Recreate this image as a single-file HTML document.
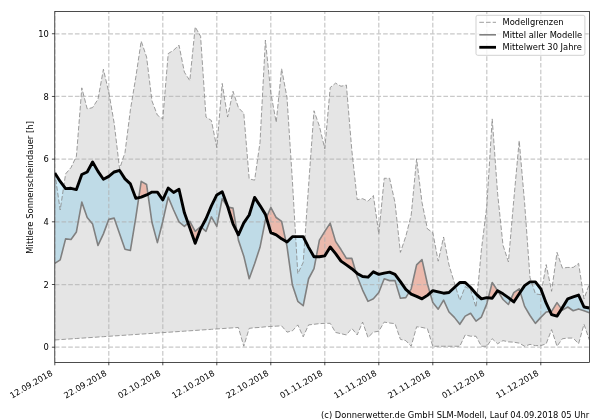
<!DOCTYPE html>
<html lang="de"><head><meta charset="utf-8"><title>Mittlere Sonnenscheindauer</title>
<style>html,body{margin:0;padding:0;background:#fff;}body{width:600px;height:420px;overflow:hidden;}svg{display:block;}text{font-family:"DejaVu Sans","Liberation Sans",sans-serif;fill:#000;}</style></head><body>
<svg width="600" height="420" viewBox="0 0 600 420">
<rect width="600" height="420" fill="#fff"/>
<defs><clipPath id="c"><rect x="54.8" y="11.4" width="534.6" height="351.0"/></clipPath></defs>
<g clip-path="url(#c)">
<polygon points="54.80,172.93 60.20,209.98 65.60,173.87 71.00,167.59 76.40,156.29 81.80,87.84 87.20,108.87 92.60,107.62 98.00,99.14 103.40,69.31 108.80,92.23 114.20,123.32 119.60,168.85 125.00,152.52 130.40,109.82 135.80,77.16 141.20,41.05 146.60,57.06 152.00,101.02 157.40,115.15 162.80,118.92 168.20,53.61 173.60,50.16 179.00,45.13 184.40,72.14 189.80,80.61 195.20,26.92 200.60,36.34 206.00,117.04 211.40,120.49 216.80,147.50 222.20,83.44 227.60,117.04 233.00,91.29 238.40,107.62 243.80,113.27 249.20,178.90 254.60,180.15 260.00,142.47 265.40,40.11 270.80,92.55 276.20,122.38 281.60,68.68 287.00,97.57 292.40,180.78 297.80,273.72 303.20,262.42 308.60,185.49 314.00,110.76 319.40,126.14 324.80,148.75 330.20,87.52 335.60,83.13 341.00,86.27 346.40,85.01 351.80,150.01 357.20,199.62 362.60,198.68 368.00,201.19 373.40,195.54 378.80,233.85 384.20,178.27 389.60,178.27 395.00,202.45 400.40,252.37 405.80,236.36 411.20,215.01 416.60,158.80 422.00,202.45 427.40,228.82 432.80,232.59 438.20,261.16 443.60,236.99 449.00,264.93 454.40,282.83 459.80,300.41 465.20,286.60 470.60,289.74 476.00,307.32 481.40,249.86 486.80,205.90 492.20,118.92 497.60,193.34 503.00,245.15 508.40,261.79 513.80,199.62 519.20,140.59 524.60,202.76 530.00,277.49 535.40,293.82 540.80,294.76 546.20,264.62 551.60,291.31 557.00,252.37 562.40,268.07 567.80,267.44 573.20,267.44 578.60,263.36 584.00,298.84 589.40,283.77 589.40,339.98 584.00,324.28 578.60,343.75 573.20,338.09 567.80,338.09 562.40,338.72 557.00,346.26 551.60,329.62 546.20,343.75 540.80,345.63 535.40,345.63 530.00,344.37 524.60,346.26 519.20,343.12 513.80,342.18 508.40,341.86 503.00,340.61 497.60,343.75 492.20,338.72 486.80,346.26 481.40,346.26 476.00,336.21 470.60,336.21 465.20,334.95 459.80,346.26 454.40,346.26 449.00,346.26 443.60,346.26 438.20,346.26 432.80,346.26 427.40,328.67 422.00,327.42 416.60,326.79 411.20,346.26 405.80,340.61 400.40,339.35 395.00,323.65 389.60,323.02 384.20,322.08 378.80,331.19 373.40,332.13 368.00,337.47 362.60,322.08 357.20,334.95 351.80,328.36 346.40,334.95 341.00,333.70 335.60,332.44 330.20,323.34 324.80,323.34 319.40,323.65 314.00,324.28 308.60,324.91 303.20,336.84 297.80,324.91 292.40,330.87 287.00,332.13 281.60,325.85 276.20,326.16 270.80,326.48 265.40,326.79 260.00,327.42 254.60,327.73 249.20,328.36 243.80,346.26 238.40,327.49 233.00,327.85 227.60,328.22 222.20,328.59 216.80,328.96 211.40,329.32 206.00,329.69 200.60,330.06 195.20,330.43 189.80,330.79 184.40,331.16 179.00,331.53 173.60,331.90 168.20,332.26 162.80,332.63 157.40,333.00 152.00,333.37 146.60,333.73 141.20,334.10 135.80,334.47 130.40,334.83 125.00,335.20 119.60,335.57 114.20,335.94 108.80,336.30 103.40,336.67 98.00,337.04 92.60,337.41 87.20,337.77 81.80,338.14 76.40,338.51 71.00,338.88 65.60,339.24 60.20,339.61 54.80,339.98" fill="#e5e5e5"/>
<polygon points="54.80,263.36 60.20,259.91 65.60,238.87 71.00,239.50 76.40,231.96 81.80,202.13 87.20,217.52 92.60,224.11 98.00,245.46 103.40,233.85 108.80,219.40 114.20,218.15 119.60,233.85 125.00,249.23 130.40,250.49 135.80,217.52 138.77,197.67 138.77,197.67 135.80,198.36 130.40,183.92 125.00,178.90 119.60,170.42 114.20,171.99 108.80,176.38 103.40,179.21 98.00,171.36 92.60,161.94 87.20,171.99 81.80,174.50 76.40,189.57 71.00,188.32 65.60,188.63 60.20,181.41 54.80,172.93" fill="#87ceeb" fill-opacity="0.4"/>
<polygon points="147.97,194.19 152.00,222.54 157.40,242.64 162.80,221.29 168.20,197.11 173.60,209.98 179.00,221.91 184.40,226.31 188.03,222.93 188.03,222.93 184.40,212.81 179.00,189.26 173.60,192.40 168.20,188.00 162.80,199.93 157.40,192.08 152.00,192.08 147.97,194.19" fill="#87ceeb" fill-opacity="0.4"/>
<polygon points="201.40,227.33 206.00,231.33 211.40,216.89 216.80,226.31 222.20,198.68 227.60,207.16 227.91,207.21 227.91,207.21 227.60,206.21 222.20,191.77 216.80,194.91 211.40,205.90 206.00,218.77 201.40,227.33" fill="#87ceeb" fill-opacity="0.4"/>
<polygon points="237.03,232.00 238.40,240.13 243.80,256.14 249.20,278.75 254.60,263.68 260.00,247.35 265.40,220.03 266.39,217.72 266.39,217.72 265.40,214.38 260.00,205.59 254.60,197.42 249.20,215.01 243.80,222.86 238.40,234.79 237.03,232.00" fill="#87ceeb" fill-opacity="0.4"/>
<polygon points="285.92,241.38 287.00,246.41 292.40,285.03 297.80,301.36 303.20,305.75 308.60,278.75 314.00,268.70 316.25,256.77 316.25,256.77 314.00,256.77 308.60,247.35 303.20,236.67 297.80,236.67 292.40,236.67 287.00,242.01 285.92,241.38" fill="#87ceeb" fill-opacity="0.4"/>
<polygon points="355.94,272.31 357.20,276.55 362.60,290.05 368.00,301.36 373.40,298.84 378.80,292.56 384.20,278.75 389.60,280.63 395.00,280.63 400.40,298.22 405.80,297.59 409.07,292.27 409.07,292.27 405.80,289.42 400.40,281.57 395.00,274.35 389.60,272.15 384.20,273.10 378.80,274.35 373.40,271.84 368.00,277.18 362.60,276.55 357.20,273.41 355.94,272.31" fill="#87ceeb" fill-opacity="0.4"/>
<polygon points="430.06,293.07 432.80,302.61 438.20,309.21 443.60,300.10 449.00,312.03 454.40,317.37 459.80,324.28 465.20,316.11 470.60,313.29 476.00,321.14 481.40,317.06 486.80,303.87 488.34,297.77 488.34,297.77 486.80,297.59 481.40,298.84 476.00,293.82 470.60,287.54 465.20,282.52 459.80,282.52 454.40,287.54 449.00,292.56 443.60,293.19 438.20,291.94 432.80,290.68 430.06,293.07" fill="#87ceeb" fill-opacity="0.4"/>
<polygon points="503.00,299.47 508.40,304.50 510.68,299.45 510.68,299.45 508.40,297.59 503.00,293.82" fill="#87ceeb" fill-opacity="0.4"/>
<polygon points="520.25,292.23 524.60,306.38 530.00,315.49 535.40,323.34 540.80,317.37 546.20,312.03 550.18,311.57 550.18,311.57 546.20,303.24 540.80,288.80 535.40,281.89 530.00,281.89 524.60,285.66 520.25,292.23" fill="#87ceeb" fill-opacity="0.4"/>
<polygon points="561.55,308.97 562.40,310.15 567.80,307.01 573.20,310.78 578.60,308.89 584.00,310.78 589.40,312.66 589.40,307.95 584.00,307.01 578.60,295.08 573.20,296.96 567.80,298.84 562.40,307.64 561.55,308.97" fill="#87ceeb" fill-opacity="0.4"/>
<polygon points="138.77,197.67 141.20,181.41 146.60,184.55 147.97,194.19 147.97,194.19 146.60,194.91 141.20,197.11 138.77,197.67" fill="#f67757" fill-opacity="0.4"/>
<polygon points="188.03,222.93 189.80,221.29 195.20,231.33 200.60,226.62 201.40,227.33 201.40,227.33 200.60,228.82 195.20,243.27 189.80,227.88 188.03,222.93" fill="#f67757" fill-opacity="0.4"/>
<polygon points="227.91,207.21 233.00,208.10 237.03,232.00 237.03,232.00 233.00,223.80 227.91,207.21" fill="#f67757" fill-opacity="0.4"/>
<polygon points="266.39,217.72 270.80,207.47 276.20,217.52 281.60,221.29 285.92,241.38 285.92,241.38 281.60,238.87 276.20,234.79 270.80,232.59 266.39,217.72" fill="#f67757" fill-opacity="0.4"/>
<polygon points="316.25,256.77 319.40,240.13 324.80,231.33 330.20,223.17 335.60,241.38 341.00,249.55 346.40,258.34 351.80,258.34 355.94,272.31 355.94,272.31 351.80,268.70 346.40,264.93 341.00,261.16 335.60,253.63 330.20,247.03 324.80,255.83 319.40,256.77 316.25,256.77" fill="#f67757" fill-opacity="0.4"/>
<polygon points="409.07,292.27 411.20,288.80 416.60,264.93 422.00,259.59 427.40,283.77 430.06,293.07 430.06,293.07 427.40,295.39 422.00,298.84 416.60,296.33 411.20,294.13 409.07,292.27" fill="#f67757" fill-opacity="0.4"/>
<polygon points="488.34,297.77 492.20,282.52 497.60,290.68 497.60,290.68 492.20,298.22 488.34,297.77" fill="#f67757" fill-opacity="0.4"/>
<polygon points="510.68,299.45 513.80,292.56 519.20,288.80 520.25,292.23 520.25,292.23 519.20,293.82 513.80,301.98 510.68,299.45" fill="#f67757" fill-opacity="0.4"/>
<polygon points="550.18,311.57 551.60,311.40 557.00,302.61 561.55,308.97 561.55,308.97 557.00,316.11 551.60,314.54 550.18,311.57" fill="#f67757" fill-opacity="0.4"/>
<path d="M54.80 362.4V11.4M108.80 362.4V11.4M162.80 362.4V11.4M216.80 362.4V11.4M270.80 362.4V11.4M324.80 362.4V11.4M378.80 362.4V11.4M432.80 362.4V11.4M486.80 362.4V11.4M540.80 362.4V11.4M54.8 347.20H589.4M54.8 284.51H589.4M54.8 221.82H589.4M54.8 159.13H589.4M54.8 96.44H589.4M54.8 33.75H589.4" fill="none" stroke="#b0b0b0" stroke-opacity="0.68" stroke-width="1.25" stroke-dasharray="4.65 2.05"/>
<polyline points="54.80,172.93 60.20,209.98 65.60,173.87 71.00,167.59 76.40,156.29 81.80,87.84 87.20,108.87 92.60,107.62 98.00,99.14 103.40,69.31 108.80,92.23 114.20,123.32 119.60,168.85 125.00,152.52 130.40,109.82 135.80,77.16 141.20,41.05 146.60,57.06 152.00,101.02 157.40,115.15 162.80,118.92 168.20,53.61 173.60,50.16 179.00,45.13 184.40,72.14 189.80,80.61 195.20,26.92 200.60,36.34 206.00,117.04 211.40,120.49 216.80,147.50 222.20,83.44 227.60,117.04 233.00,91.29 238.40,107.62 243.80,113.27 249.20,178.90 254.60,180.15 260.00,142.47 265.40,40.11 270.80,92.55 276.20,122.38 281.60,68.68 287.00,97.57 292.40,180.78 297.80,273.72 303.20,262.42 308.60,185.49 314.00,110.76 319.40,126.14 324.80,148.75 330.20,87.52 335.60,83.13 341.00,86.27 346.40,85.01 351.80,150.01 357.20,199.62 362.60,198.68 368.00,201.19 373.40,195.54 378.80,233.85 384.20,178.27 389.60,178.27 395.00,202.45 400.40,252.37 405.80,236.36 411.20,215.01 416.60,158.80 422.00,202.45 427.40,228.82 432.80,232.59 438.20,261.16 443.60,236.99 449.00,264.93 454.40,282.83 459.80,300.41 465.20,286.60 470.60,289.74 476.00,307.32 481.40,249.86 486.80,205.90 492.20,118.92 497.60,193.34 503.00,245.15 508.40,261.79 513.80,199.62 519.20,140.59 524.60,202.76 530.00,277.49 535.40,293.82 540.80,294.76 546.20,264.62 551.60,291.31 557.00,252.37 562.40,268.07 567.80,267.44 573.20,267.44 578.60,263.36 584.00,298.84 589.40,283.77" fill="none" stroke="#858585" stroke-width="0.8" stroke-dasharray="4.65 2.05" stroke-linejoin="round"/>
<polyline points="54.80,339.98 60.20,339.61 65.60,339.24 71.00,338.88 76.40,338.51 81.80,338.14 87.20,337.77 92.60,337.41 98.00,337.04 103.40,336.67 108.80,336.30 114.20,335.94 119.60,335.57 125.00,335.20 130.40,334.83 135.80,334.47 141.20,334.10 146.60,333.73 152.00,333.37 157.40,333.00 162.80,332.63 168.20,332.26 173.60,331.90 179.00,331.53 184.40,331.16 189.80,330.79 195.20,330.43 200.60,330.06 206.00,329.69 211.40,329.32 216.80,328.96 222.20,328.59 227.60,328.22 233.00,327.85 238.40,327.49 243.80,346.26 249.20,328.36 254.60,327.73 260.00,327.42 265.40,326.79 270.80,326.48 276.20,326.16 281.60,325.85 287.00,332.13 292.40,330.87 297.80,324.91 303.20,336.84 308.60,324.91 314.00,324.28 319.40,323.65 324.80,323.34 330.20,323.34 335.60,332.44 341.00,333.70 346.40,334.95 351.80,328.36 357.20,334.95 362.60,322.08 368.00,337.47 373.40,332.13 378.80,331.19 384.20,322.08 389.60,323.02 395.00,323.65 400.40,339.35 405.80,340.61 411.20,346.26 416.60,326.79 422.00,327.42 427.40,328.67 432.80,346.26 438.20,346.26 443.60,346.26 449.00,346.26 454.40,346.26 459.80,346.26 465.20,334.95 470.60,336.21 476.00,336.21 481.40,346.26 486.80,346.26 492.20,338.72 497.60,343.75 503.00,340.61 508.40,341.86 513.80,342.18 519.20,343.12 524.60,346.26 530.00,344.37 535.40,345.63 540.80,345.63 546.20,343.75 551.60,329.62 557.00,346.26 562.40,338.72 567.80,338.09 573.20,338.09 578.60,343.75 584.00,324.28 589.40,339.98" fill="none" stroke="#858585" stroke-width="0.8" stroke-dasharray="4.65 2.05" stroke-linejoin="round"/>
<polyline points="54.80,263.36 60.20,259.91 65.60,238.87 71.00,239.50 76.40,231.96 81.80,202.13 87.20,217.52 92.60,224.11 98.00,245.46 103.40,233.85 108.80,219.40 114.20,218.15 119.60,233.85 125.00,249.23 130.40,250.49 135.80,217.52 141.20,181.41 146.60,184.55 152.00,222.54 157.40,242.64 162.80,221.29 168.20,197.11 173.60,209.98 179.00,221.91 184.40,226.31 189.80,221.29 195.20,231.33 200.60,226.62 206.00,231.33 211.40,216.89 216.80,226.31 222.20,198.68 227.60,207.16 233.00,208.10 238.40,240.13 243.80,256.14 249.20,278.75 254.60,263.68 260.00,247.35 265.40,220.03 270.80,207.47 276.20,217.52 281.60,221.29 287.00,246.41 292.40,285.03 297.80,301.36 303.20,305.75 308.60,278.75 314.00,268.70 319.40,240.13 324.80,231.33 330.20,223.17 335.60,241.38 341.00,249.55 346.40,258.34 351.80,258.34 357.20,276.55 362.60,290.05 368.00,301.36 373.40,298.84 378.80,292.56 384.20,278.75 389.60,280.63 395.00,280.63 400.40,298.22 405.80,297.59 411.20,288.80 416.60,264.93 422.00,259.59 427.40,283.77 432.80,302.61 438.20,309.21 443.60,300.10 449.00,312.03 454.40,317.37 459.80,324.28 465.20,316.11 470.60,313.29 476.00,321.14 481.40,317.06 486.80,303.87 492.20,282.52 497.60,290.68 503.00,299.47 508.40,304.50 513.80,292.56 519.20,288.80 524.60,306.38 530.00,315.49 535.40,323.34 540.80,317.37 546.20,312.03 551.60,311.40 557.00,302.61 562.40,310.15 567.80,307.01 573.20,310.78 578.60,308.89 584.00,310.78 589.40,312.66" fill="none" stroke="#808080" stroke-width="1.6" stroke-linejoin="round"/>
<polyline points="54.80,172.93 60.20,181.41 65.60,188.63 71.00,188.32 76.40,189.57 81.80,174.50 87.20,171.99 92.60,161.94 98.00,171.36 103.40,179.21 108.80,176.38 114.20,171.99 119.60,170.42 125.00,178.90 130.40,183.92 135.80,198.36 141.20,197.11 146.60,194.91 152.00,192.08 157.40,192.08 162.80,199.93 168.20,188.00 173.60,192.40 179.00,189.26 184.40,212.81 189.80,227.88 195.20,243.27 200.60,228.82 206.00,218.77 211.40,205.90 216.80,194.91 222.20,191.77 227.60,206.21 233.00,223.80 238.40,234.79 243.80,222.86 249.20,215.01 254.60,197.42 260.00,205.59 265.40,214.38 270.80,232.59 276.20,234.79 281.60,238.87 287.00,242.01 292.40,236.67 297.80,236.67 303.20,236.67 308.60,247.35 314.00,256.77 319.40,256.77 324.80,255.83 330.20,247.03 335.60,253.63 341.00,261.16 346.40,264.93 351.80,268.70 357.20,273.41 362.60,276.55 368.00,277.18 373.40,271.84 378.80,274.35 384.20,273.10 389.60,272.15 395.00,274.35 400.40,281.57 405.80,289.42 411.20,294.13 416.60,296.33 422.00,298.84 427.40,295.39 432.80,290.68 438.20,291.94 443.60,293.19 449.00,292.56 454.40,287.54 459.80,282.52 465.20,282.52 470.60,287.54 476.00,293.82 481.40,298.84 486.80,297.59 492.20,298.22 497.60,290.68 503.00,293.82 508.40,297.59 513.80,301.98 519.20,293.82 524.60,285.66 530.00,281.89 535.40,281.89 540.80,288.80 546.20,303.24 551.60,314.54 557.00,316.11 562.40,307.64 567.80,298.84 573.20,296.96 578.60,295.08 584.00,307.01 589.40,307.95" fill="none" stroke="#000" stroke-width="2.9" stroke-linejoin="round"/>
</g>
<rect x="54.8" y="11.4" width="534.6" height="351.0" fill="none" stroke="#000" stroke-width="0.7"/>
<path d="M54.80 362.4v2.9M108.80 362.4v2.9M162.80 362.4v2.9M216.80 362.4v2.9M270.80 362.4v2.9M324.80 362.4v2.9M378.80 362.4v2.9M432.80 362.4v2.9M486.80 362.4v2.9M540.80 362.4v2.9M54.8 347.20h-2.9M54.8 284.51h-2.9M54.8 221.82h-2.9M54.8 159.13h-2.9M54.8 96.44h-2.9M54.8 33.75h-2.9" fill="none" stroke="#000" stroke-width="0.7"/>
<text x="48.9" y="350.35" font-size="8.333" text-anchor="end">0</text>
<text x="48.9" y="287.66" font-size="8.333" text-anchor="end">2</text>
<text x="48.9" y="224.97" font-size="8.333" text-anchor="end">4</text>
<text x="48.9" y="162.28" font-size="8.333" text-anchor="end">6</text>
<text x="48.9" y="99.59" font-size="8.333" text-anchor="end">8</text>
<text x="48.9" y="36.90" font-size="8.333" text-anchor="end">10</text>
<text transform="translate(53.30,374.80) rotate(-30)" font-size="8.333" text-anchor="end">12.09.2018</text>
<text transform="translate(107.30,374.80) rotate(-30)" font-size="8.333" text-anchor="end">22.09.2018</text>
<text transform="translate(161.30,374.80) rotate(-30)" font-size="8.333" text-anchor="end">02.10.2018</text>
<text transform="translate(215.30,374.80) rotate(-30)" font-size="8.333" text-anchor="end">12.10.2018</text>
<text transform="translate(269.30,374.80) rotate(-30)" font-size="8.333" text-anchor="end">22.10.2018</text>
<text transform="translate(323.30,374.80) rotate(-30)" font-size="8.333" text-anchor="end">01.11.2018</text>
<text transform="translate(377.30,374.80) rotate(-30)" font-size="8.333" text-anchor="end">11.11.2018</text>
<text transform="translate(431.30,374.80) rotate(-30)" font-size="8.333" text-anchor="end">21.11.2018</text>
<text transform="translate(485.30,374.80) rotate(-30)" font-size="8.333" text-anchor="end">01.12.2018</text>
<text transform="translate(539.30,374.80) rotate(-30)" font-size="8.333" text-anchor="end">11.12.2018</text>
<text transform="translate(33.1,187.40) rotate(-90)" font-size="8.333" text-anchor="middle" textLength="132.6" lengthAdjust="spacing">Mittlere Sonnenscheindauer [h]</text>
<text x="589.2" y="418" font-size="8.333" text-anchor="end" textLength="268.2" lengthAdjust="spacing">(c) Donnerwetter.de GmbH SLM-Modell, Lauf 04.09.2018 05 Uhr</text>
<rect x="476" y="15.3" width="108.9" height="40" rx="1.8" ry="1.8" fill="#fff" fill-opacity="0.8" stroke="#ccc" stroke-width="0.9"/>
<path d="M479.3 22.3h16.7" stroke="#858585" stroke-width="0.8" stroke-dasharray="4.65 2.05" fill="none"/>
<path d="M479.3 34.8h16.7" stroke="#808080" stroke-width="1.6" fill="none"/>
<path d="M479.3 47.3h16.7" stroke="#000" stroke-width="2.8" fill="none"/>
<text x="502.6" y="25.0" font-size="8.333">Modellgrenzen</text>
<text x="502.6" y="37.5" font-size="8.333">Mittel aller Modelle</text>
<text x="502.6" y="50.0" font-size="8.333">Mittelwert 30 Jahre</text>
</svg></body></html>
